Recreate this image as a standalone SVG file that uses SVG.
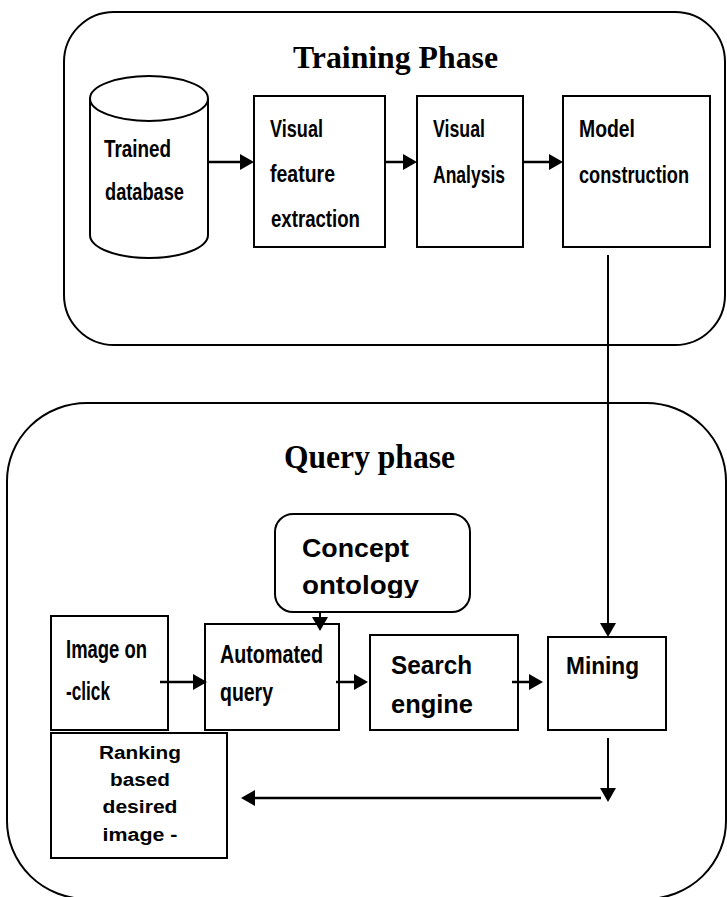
<svg xmlns="http://www.w3.org/2000/svg" width="727" height="897" viewBox="0 0 727 897">
<style>
.bg{fill:#fff}
.panel{fill:none;stroke:#000;stroke-width:2}
.box{fill:#fff;stroke:#000;stroke-width:2}
.lbl{font-family:"Liberation Sans",Arial,sans-serif;font-weight:bold;fill:#000}
.ttl{font-family:"Liberation Serif","Times New Roman",serif;font-weight:bold;fill:#000}
.conn{fill:none;stroke:#000;stroke-width:2.5}
.thin{fill:none;stroke:#000;stroke-width:2}
</style>
<defs>
<marker id="ah" markerUnits="userSpaceOnUse" viewBox="0 0 14 16" refX="10" refY="8" markerWidth="14" markerHeight="16" orient="auto">
<path d="M0,0 L14,8 L0,16 z" fill="#000"/>
</marker>
<clipPath id="clipOnt"><rect x="270" y="500" width="210" height="98"/></clipPath>
</defs>
<rect class="bg" x="0" y="0" width="727" height="897"/>

<g id="training-phase">
<rect class="panel" x="64" y="12" width="661" height="333" rx="50" ry="50"/>
<text class="ttl" x="293" y="68" font-size="32" textLength="205" lengthAdjust="spacingAndGlyphs">Training Phase</text>
</g>

<g id="query-phase">
<rect class="panel" x="7" y="403" width="719" height="496" rx="80" ry="78"/>
<text class="ttl" x="284" y="468" font-size="34" textLength="171" lengthAdjust="spacingAndGlyphs">Query phase</text>
</g>

<g id="trained-database">
<path class="box" d="M90,98.5 L90,235 A59,23 0 0 0 208,235 L208,98.5"/>
<ellipse class="box" cx="149" cy="98.5" rx="59" ry="22.5"/>
<text class="lbl" x="104" y="157" font-size="24" textLength="67" lengthAdjust="spacingAndGlyphs">Trained</text>
<text class="lbl" x="105" y="200" font-size="24" textLength="79" lengthAdjust="spacingAndGlyphs">database</text>
</g>

<g id="visual-feature-extraction">
<rect class="box" x="254" y="96" width="131" height="151"/>
<text class="lbl" x="270" y="137" font-size="24" textLength="53" lengthAdjust="spacingAndGlyphs">Visual</text>
<text class="lbl" x="270" y="182" font-size="24" textLength="65" lengthAdjust="spacingAndGlyphs">feature</text>
<text class="lbl" x="271" y="227" font-size="24" textLength="89" lengthAdjust="spacingAndGlyphs">extraction</text>
</g>

<g id="visual-analysis">
<rect class="box" x="417" y="96" width="106" height="151"/>
<text class="lbl" x="433" y="137" font-size="24" textLength="52" lengthAdjust="spacingAndGlyphs">Visual</text>
<text class="lbl" x="433" y="183" font-size="24" textLength="72" lengthAdjust="spacingAndGlyphs">Analysis</text>
</g>

<g id="model-construction">
<rect class="box" x="563" y="96" width="147" height="151"/>
<text class="lbl" x="579" y="137" font-size="24" textLength="56" lengthAdjust="spacingAndGlyphs">Model</text>
<text class="lbl" x="579" y="183" font-size="24" textLength="110" lengthAdjust="spacingAndGlyphs">construction</text>
</g>

<g id="concept-ontology">
<rect class="box" x="275" y="514" width="195" height="98" rx="18" ry="18"/>
<text class="lbl" x="302" y="557" font-size="25" textLength="107" lengthAdjust="spacingAndGlyphs">Concept</text>
<text class="lbl" x="302" y="594" font-size="25" textLength="117" lengthAdjust="spacingAndGlyphs" clip-path="url(#clipOnt)">ontology</text>
</g>

<g id="image-on-click">
<rect class="box" x="51" y="616" width="117" height="114"/>
<text class="lbl" x="66" y="658" font-size="26" textLength="81" lengthAdjust="spacingAndGlyphs">Image on</text>
<text class="lbl" x="66" y="700" font-size="26" textLength="44" lengthAdjust="spacingAndGlyphs">-click</text>
</g>

<g id="automated-query">
<rect class="box" x="205" y="624" width="134" height="106"/>
<text class="lbl" x="220" y="663" font-size="25" textLength="103" lengthAdjust="spacingAndGlyphs">Automated</text>
<text class="lbl" x="220" y="701" font-size="25" textLength="53" lengthAdjust="spacingAndGlyphs">query</text>
</g>

<g id="search-engine">
<rect class="box" x="370" y="635" width="148" height="95"/>
<text class="lbl" x="391" y="674" font-size="25" textLength="81" lengthAdjust="spacingAndGlyphs">Search</text>
<text class="lbl" x="391" y="713" font-size="25" textLength="82" lengthAdjust="spacingAndGlyphs">engine</text>
</g>

<g id="mining">
<rect class="box" x="548" y="637" width="118" height="93"/>
<text class="lbl" x="566" y="674" font-size="24" textLength="73" lengthAdjust="spacingAndGlyphs">Mining</text>
</g>

<g id="ranking-desired-image">
<rect class="box" x="51" y="733" width="176" height="125"/>
<text class="lbl" x="140" y="759" font-size="18" text-anchor="middle" textLength="82" lengthAdjust="spacingAndGlyphs">Ranking</text>
<text class="lbl" x="140" y="786" font-size="18" text-anchor="middle" textLength="60" lengthAdjust="spacingAndGlyphs">based</text>
<text class="lbl" x="140" y="813" font-size="18" text-anchor="middle" textLength="75" lengthAdjust="spacingAndGlyphs">desired</text>
<text class="lbl" x="140" y="841" font-size="18" text-anchor="middle" textLength="75" lengthAdjust="spacingAndGlyphs">image -</text>
</g>

<g id="connectors">
<line class="conn" x1="208" y1="162" x2="250" y2="162" marker-end="url(#ah)"/>
<line class="conn" x1="385" y1="162" x2="413" y2="162" marker-end="url(#ah)"/>
<line class="conn" x1="523" y1="162" x2="559" y2="162" marker-end="url(#ah)"/>
<line class="thin" x1="608" y1="255" x2="608" y2="633" marker-end="url(#ah)"/>
<line class="thin" x1="320" y1="612" x2="320" y2="627" marker-end="url(#ah)"/>
<line class="conn" x1="160" y1="682" x2="203" y2="682" marker-end="url(#ah)"/>
<line class="conn" x1="336" y1="682" x2="364" y2="682" marker-end="url(#ah)"/>
<line class="conn" x1="512" y1="682" x2="539" y2="682" marker-end="url(#ah)"/>
<line class="thin" x1="608" y1="738" x2="608" y2="798" marker-end="url(#ah)"/>
<line class="conn" x1="601" y1="798" x2="245" y2="798" marker-end="url(#ah)"/>
</g>
</svg>
